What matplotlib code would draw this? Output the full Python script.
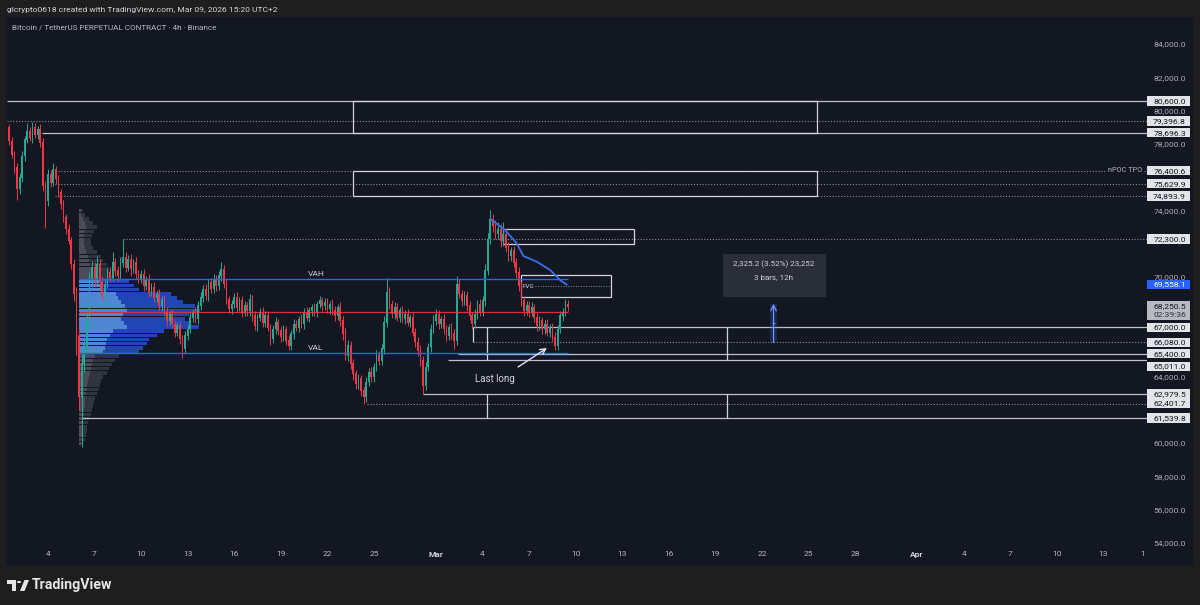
import matplotlib
matplotlib.use('Agg')
import matplotlib.pyplot as plt
import matplotlib.dates as mdates
from matplotlib.patches import Rectangle, Polygon, Circle
import numpy as np
import pandas as pd

plt.rcParams['font.family'] = ['Roboto', 'DejaVu Sans']

# ---- 4h candles, Feb 01 12:00 -> Mar 09 12:00 (open = previous close) ----
first_open = 79000
closes = [
    78200, 77400, 76600,
    75300, 76000, 77300, 78300, 78800, 78400,
    79000, 78600, 78900, 78100, 75500, 74600,
    76200, 75700, 76500, 75900, 75100, 74400,
    73600, 72900, 72200, 70800, 69000, 66500,
    62800, 64800, 65900, 67400, 69800, 70600,
    69900, 70800, 69700, 68900, 69600, 70300,
    70000, 70900, 70400, 70100, 70900, 71200,
    70600, 71100, 70500, 70900, 70200, 69900,
    70200, 69500, 69900, 69100, 69400, 68800,
    69000, 68300, 68700, 67900, 67400, 67800,
    67200, 66700, 67100, 66300, 65700, 66500,
    66900, 67600, 67900, 67500, 68300, 68800,
    69300, 68900, 69700, 69300, 69900, 69500,
    70100, 70500, 69600, 68700, 68100, 68400,
    68800, 68200, 68600, 67900, 68300, 68000,
    68700, 67700, 67100, 67600, 67900, 67300,
    67700, 67000, 66300, 66900, 67300, 66800,
    66400, 66900, 66200, 65900, 66600, 67200,
    67000, 67500, 67200, 67900, 67600, 68000,
    68200, 67900, 68400, 68600, 68300, 68500,
    68100, 68400, 68000, 67700, 68200, 67400,
    66600, 65300, 65900, 64800, 64200, 63600,
    63900, 63200, 62800, 63700, 64300, 64000,
    64600, 65300, 65000, 65700, 67300, 69100,
    68400, 67800, 68200, 67600, 68000, 67500,
    67800, 67300, 67600, 66700, 66100, 65600,
    65000, 63500, 64600, 65800, 66900, 67400,
    67800, 67200, 67500, 66900, 66500, 67000,
    66600, 66200, 69600, 69000, 68600, 68900,
    68300, 67700, 67200, 67800, 68400, 67900,
    68600, 70400, 72300, 73500, 73100, 72600,
    72900, 72200, 72600, 71800, 71300, 71600,
    70900, 70300, 69500, 68600, 68000, 68300,
    67900, 68200, 67600, 67100, 67400, 66900,
    67200, 66700, 67000, 66400, 65900, 66900,
    67700, 67900, 68400, 68250.5,
]
wick_up = [
    200, 250, 200,
    300, 250, 300, 200, 500, 250,
    350, 250, 200, 300, 250, 300,
    300, 250, 400, 200, 250, 200,
    250, 200, 300, 250, 300, 400,
    400, 600, 500, 400, 500, 400,
    300, 500, 300, 400, 300, 250,
    300, 600, 250, 300, 300, 1100,
    300, 250, 300, 200, 300, 250,
    250, 300, 200, 300, 250, 300,
    250, 300, 200, 250, 300, 200,
    300, 250, 200, 300, 250, 300,
    250, 300, 200, 300, 250, 300,
    250, 300, 200, 250, 300, 250,
    300, 400, 250, 300, 200, 250,
    250, 300, 200, 300, 250, 200,
    300, 250, 300, 200, 250, 300,
    250, 300, 200, 250, 300, 200,
    300, 250, 200, 300, 250, 300,
    250, 200, 300, 250, 300, 200,
    200, 250, 200, 250, 200, 250,
    250, 200, 300, 250, 200, 300,
    300, 350, 300, 250, 300, 250,
    300, 250, 200, 300, 250, 300,
    250, 300, 250, 300, 400, 860,
    300, 250, 300, 250, 200, 300,
    250, 300, 200, 300, 250, 300,
    300, 250, 300, 250, 300, 350,
    300, 250, 200, 300, 250, 200,
    250, 300, 500, 300, 250, 300,
    250, 300, 200, 300, 250, 300,
    300, 400, 350, 550, 300, 350,
    400, 300, 700, 350, 300, 250,
    300, 250, 300, 250, 300, 250,
    250, 300, 200, 250, 300, 200,
    250, 300, 200, 250, 300, 250,
    300, 250, 300, 250,
]
wick_dn = [
    250, 200, 300,
    650, 300, 250, 300, 250, 200,
    300, 250, 300, 250, 300, 1650,
    300, 250, 200, 300, 250, 300,
    250, 300, 200, 300, 400, 1200,
    800, 3000, 500, 400, 500, 400,
    400, 300, 350, 300, 400, 250,
    300, 250, 300, 350, 250, 300,
    300, 250, 400, 250, 300, 250,
    250, 300, 250, 300, 250, 300,
    300, 250, 300, 250, 300, 250,
    250, 300, 250, 300, 550, 250,
    300, 250, 300, 250, 300, 250,
    300, 250, 300, 250, 250, 300,
    250, 300, 250, 300, 250, 300,
    250, 300, 250, 300, 250, 300,
    300, 300, 250, 300, 250, 300,
    300, 250, 400, 250, 300, 250,
    300, 250, 300, 300, 250, 300,
    250, 300, 250, 300, 250, 300,
    300, 250, 300, 250, 300, 250,
    250, 300, 250, 300, 250, 300,
    350, 300, 350, 300, 350, 300,
    300, 350, 400, 300, 250, 300,
    300, 250, 300, 250, 300, 300,
    300, 250, 300, 250, 300, 250,
    300, 250, 300, 250, 300, 350,
    350, 500, 300, 250, 300, 250,
    250, 300, 250, 300, 350, 250,
    300, 500, 300, 250, 300, 250,
    300, 250, 300, 250, 300, 250,
    250, 300, 250, 300, 350, 300,
    300, 350, 300, 300, 350, 300,
    300, 350, 300, 350, 300, 250,
    300, 250, 300, 300, 250, 300,
    300, 250, 300, 250, 280, 300,
    250, 300, 250, 300,
]

# ---- fixed range volume profile (rows of 250 from 59,900) ----
vp_volume = [4, 6, 7, 8, 8, 9, 10,
             12, 13, 14, 15, 16,
             18, 20, 21, 22, 24,
             28, 30, 33, 36, 40,
             60, 64, 68, 70, 78, 85, 120, 112, 106, 110, 121, 116, 104, 98, 92, 60, 55, 50,
             34, 32, 30, 28, 24, 22, 18, 14,
             12, 12, 13, 15, 18, 14, 10, 6, 4]
vah, val, poc = 69880, 65420, 67930

# ---- horizontal levels ----
level_prices = [80600.0, 79396.8, 78696.3, 76400.6, 75629.9, 74893.9, 72300.0,
                67000.0, 66080.0, 65400.0, 65011.0, 62979.5, 62401.7, 61539.8]
level_starts = ['2026-02-01 09:00', '2026-02-01 09:00', '2026-02-03 15:00', '2026-02-04 11:00',
                '2026-02-04 11:00', '2026-02-04 11:00', '2026-02-08 20:00', '2026-03-03 09:20',
                '2026-03-03 09:20', '2026-03-02 10:00', '2026-03-01 18:40', '2026-02-28 04:00',
                '2026-02-24 13:30', '2026-02-06 04:30']
level_dotted = [False, True, False, True, True, True, True, False, True, False, False, False, True, False]

# anchored vwap (blue curve)
vwap_times = ['2026-03-04 14:10', '2026-03-05 10:50', '2026-03-06 04:50', '2026-03-06 15:10',
              '2026-03-07 11:45', '2026-03-08 08:25', '2026-03-08 23:45', '2026-03-09 10:00']
vwap_prices = [73445, 72843, 72043, 71280, 70940, 70440, 69840, 69558.1]

price_ticks = list(range(54000, 84001, 2000))
date_ticks = ['2026-02-04', '2026-02-07', '2026-02-10', '2026-02-13', '2026-02-16', '2026-02-19',
              '2026-02-22', '2026-02-25', '2026-03-01', '2026-03-04', '2026-03-07', '2026-03-10',
              '2026-03-13', '2026-03-16', '2026-03-19', '2026-03-22', '2026-03-25', '2026-03-28',
              '2026-04-01', '2026-04-04', '2026-04-07', '2026-04-10', '2026-04-13', '2026-04-15 13:30']
date_labels = ['4', '7', '10', '13', '16', '19', '22', '25', 'Mar', '4', '7', '10', '13', '16',
               '19', '22', '25', '28', 'Apr', '4', '7', '10', '13', '1']

BG = '#1e1e1e'
PANEL = '#131722'
UP = '#22ab94'
DN = '#f23645'
LINE = '#d1d4dc'
DOT = '#8a8d96'
BLUE = '#2962ff'


def t(s):
    return mdates.date2num(pd.Timestamp(s))


W, H = 1200, 605
fig = plt.figure(figsize=(12, 6.05), dpi=100, facecolor=BG)
fig.patches.append(Rectangle((6 / W, 1 - 566 / H), 1187 / W, 549 / H, transform=fig.transFigure,
                             facecolor=PANEL, edgecolor='none', zorder=-10))
ax = fig.add_axes([7 / W, 1 - 548 / H, 1140 / W, 531 / H])
ax.set_facecolor('none')
for s in ax.spines.values():
    s.set_visible(False)
ax.set_xlim(t('2026-02-01 08:40'), t('2026-04-15 19:30'))
ax.set_ylim(53722, 85651)
ax.set_yticks([])
ax.set_xticks([t(d) for d in date_ticks])
ax.set_xticklabels(date_labels)
ax.tick_params(axis='x', length=0, pad=2.5, labelsize=6, labelcolor='#b2b5be')
for lab in ax.get_xticklabels():
    if lab.get_text() in ('Mar', 'Apr'):
        lab.set_fontweight('bold')
        lab.set_color('#d1d4dc')

# candles
times = mdates.date2num(pd.date_range('2026-02-01 12:00', periods=len(closes), freq='4h').to_numpy())
closes_a = np.array(closes, dtype=float)
opens_a = np.concatenate([[first_open], closes_a[:-1]])
highs = np.maximum(opens_a, closes_a) + np.array(wick_up)
lows = np.minimum(opens_a, closes_a) - np.array(wick_dn)
cols = np.where(closes_a >= opens_a, UP, DN)
bar_w = 4 / 24 * 0.62
ax.vlines(times, lows, highs, colors=cols, lw=0.7, zorder=4)
ax.bar(times, np.abs(closes_a - opens_a) + 40, bottom=np.minimum(opens_a, closes_a) - 20,
       width=bar_w, color=cols, edgecolor='none', zorder=4)

# volume profile
vp_left = t('2026-02-06 00:00')
px_day = 15.52
rows = 59900 + 250 * np.arange(len(vp_volume))
for r, v in zip(rows, vp_volume):
    inside = val - 50 <= r < vah - 10
    w = v / px_day
    c1, c2 = ('#5b9cf6', '#2456e6') if inside else ('#8e919a', '#5d606b')
    a1, a2 = (0.85, 0.75) if inside else (0.45, 0.4)
    ax.barh(r, w * 0.4, left=vp_left, height=215, align='edge', color=c1, alpha=a1,
            edgecolor='none', zorder=2)
    ax.barh(r, w * 0.6, left=vp_left + w * 0.4, height=215, align='edge', color=c2, alpha=a2,
            edgecolor='none', zorder=2)
vp_end = t('2026-03-09 12:00')
ax.hlines([vah, val], vp_left, vp_end, colors=BLUE, lw=1.0, zorder=5)
ax.hlines(poc, vp_left, vp_end, colors='#f23645', lw=0.9, alpha=0.85, zorder=5)
ax.text(t('2026-02-21 06:30'), vah + 120, 'VAH', color=LINE, fontsize=6, ha='center', va='bottom', zorder=6)
ax.text(t('2026-02-21 06:30'), val + 120, 'VAL', color=LINE, fontsize=6, ha='center', va='bottom', zorder=6)

# levels
x_end = ax.get_xlim()[1]
for p, s, d in zip(level_prices, level_starts, level_dotted):
    if d:
        ax.hlines(p, t(s), x_end, colors=DOT, lw=0.8, linestyles=(0, (1, 1.6)), zorder=3)
    else:
        ax.hlines(p, t(s), x_end, colors=LINE, lw=0.9, alpha=0.9, zorder=3)

# boxes
def box(t0, t1, p0, p1):
    ax.add_patch(Rectangle((t(t0), p0), t(t1) - t(t0), p1 - p0, facecolor='none',
                           edgecolor=LINE, lw=0.9, zorder=3))

box('2026-02-23 15:30', '2026-03-25 13:00', 78696.3, 80600.0)
box('2026-02-23 15:30', '2026-03-25 13:00', 74893.9, 76400.6)
box('2026-03-05 07:40', '2026-03-13 18:00', 72000, 72900)
box('2026-03-06 11:30', '2026-03-12 06:45', 68800, 70140)
ax.hlines(69470, t('2026-03-07 09:00'), t('2026-03-12 06:45'), colors=DOT, lw=0.7,
          linestyles=(0, (1, 1.6)), zorder=3)
ax.text(t('2026-03-06 14:00'), 69470, 'FVG', color=LINE, fontsize=4.5, va='center', ha='left', zorder=6)
for vx in ('2026-03-04 07:00', '2026-03-19 18:00'):
    ax.vlines(t(vx), 65011.0, 67000.0, colors=LINE, lw=0.9, zorder=3)
    ax.vlines(t(vx), 61539.8, 62979.5, colors=LINE, lw=0.9, zorder=3)
ax.vlines(t('2026-03-03 09:20'), 66080.0, 67000.0, colors=LINE, lw=0.9, zorder=3)

# anchored vwap
ax.plot([t(s) for s in vwap_times], vwap_prices, color='#3a6ff0', lw=1.3, zorder=5)

# nPOC label
ax.text((1142 - 7) / 1140, 76400.6, 'nPOC TPO', transform=ax.get_yaxis_transform(), ha='right',
        va='center', fontsize=5.3, color='#b2b5be', zorder=6,
        bbox=dict(boxstyle='square,pad=0.25', facecolor=PANEL, edgecolor='none'))

# measure tool
m0, m1 = t('2026-03-22 12:00'), t('2026-03-23 00:00')
ax.add_patch(Rectangle((m0, 66080.0), m1 - m0, 2325.2, facecolor=BLUE, alpha=0.22,
                       edgecolor='none', zorder=3))
mc = (m0 + m1) / 2
ax.annotate('', xy=(mc, 68405.2), xytext=(mc, 66080.0),
            arrowprops=dict(arrowstyle='->', color='#6f95f5', lw=0.9, shrinkA=0, shrinkB=0), zorder=6)
ax.hlines(67242.6, mc - 0.12, mc + 0.12, colors='#6f95f5', lw=0.8, zorder=6)
ib0, ib1 = t('2026-03-19 11:45'), t('2026-03-26 03:00')
ax.add_patch(Rectangle((ib0, 68815), ib1 - ib0, 2585, facecolor='#2a2e39', edgecolor='none', zorder=6))
ax.text(mc, 70800, '2,325.2 (3.52%) 23,252', color=LINE, fontsize=5.8, ha='center', va='center', zorder=7)
ax.text(mc, 70017, '3 bars, 12h', color=LINE, fontsize=5.8, ha='center', va='center', zorder=7)

# "Last long"
ax.annotate('', xy=(t('2026-03-08 03:40'), 65748), xytext=(t('2026-03-06 07:00'), 64606),
            arrowprops=dict(arrowstyle='->', color='#e0e3eb', lw=1.0, shrinkA=0, shrinkB=0), zorder=6)
ax.text(t('2026-03-04 19:00'), 63884, 'Last long', color=LINE, fontsize=7, ha='center', va='center', zorder=6)

# price axis
ytf = ax.get_yaxis_transform()
xr = (1186 - 7) / 1140
label_shift = {65011.0: -360}
shown_labels = [p + label_shift.get(p, 0) for p in level_prices] + [69558.1, 68250.5]
for p in price_ticks:
    if min(abs(p - q) for q in shown_labels) < 420:
        continue
    ax.text(xr, p, f'{p:,.1f}', transform=ytf, ha='right', va='center', fontsize=6.1,
            color='#a9acb5', clip_on=False, zorder=6)

lab_h = 560
for p in level_prices:
    yp = p + label_shift.get(p, 0)
    ax.add_patch(Rectangle((1.0, yp - lab_h / 2), 43 / 1140, lab_h, transform=ytf, facecolor='#e3e4e8',
                           edgecolor='none', clip_on=False, zorder=7))
    ax.text(xr, yp, f'{p:,.1f}', transform=ytf, ha='right', va='center', fontsize=6.1,
            color='#131722', clip_on=False, zorder=8)
ax.add_patch(Rectangle((1.0, 69558.1 - lab_h / 2), 43 / 1140, lab_h, transform=ytf, facecolor=BLUE,
                       edgecolor='none', clip_on=False, zorder=7))
ax.text(xr, 69558.1, '69,558.1', transform=ytf, ha='right', va='center', fontsize=6.1,
        color='white', clip_on=False, zorder=8)
ax.add_patch(Rectangle((1.0, 68250.5 - 830), 43 / 1140, 1150, transform=ytf, facecolor='#b8bac1',
                       edgecolor='none', clip_on=False, zorder=7))
ax.text(xr, 68250.5, '68,250.5', transform=ytf, ha='right', va='center', fontsize=6.1,
        color='#131722', clip_on=False, zorder=8)
ax.text(xr, 68250.5 - 540, '02:39:36', transform=ytf, ha='right', va='center', fontsize=6.1,
        color='#2a2e39', clip_on=False, zorder=8)

# header
fig.text(7 / W, 1 - 10 / H, 'glcrypto0618 created with TradingView.com, Mar 09, 2026 15:20 UTC+2',
         color='#d1d4dc', fontsize=6.1, va='center', ha='left')
fig.text(12 / W, 1 - 27.5 / H, 'Bitcoin / TetherUS PERPETUAL CONTRACT · 4h · Binance',
         color='#b2b5be', fontsize=5.9, va='center', ha='left')

# TradingView logo
def fp(x, y):
    return (x / W, 1 - y / H)

logo_c = '#e6e6e6'
fig.patches.append(Polygon([fp(7, 580), fp(16, 580), fp(16, 591), fp(12, 591), fp(12, 584), fp(7, 584)],
                           closed=True, transform=fig.transFigure, facecolor=logo_c, edgecolor='none'))
fig.patches.append(Circle(fp(19, 582), 2.1 / W, transform=fig.transFigure, facecolor=logo_c, edgecolor='none'))
fig.patches.append(Polygon([fp(24.5, 580), fp(29, 580), fp(24.5, 591), fp(20, 591)], closed=True,
                           transform=fig.transFigure, facecolor=logo_c, edgecolor='none'))
fig.text(32 / W, 1 - 585.5 / H, 'TradingView', color=logo_c, fontsize=10.2, fontweight='bold',
         va='center', ha='left')

fig.savefig('out.png', dpi=100, facecolor=BG)
